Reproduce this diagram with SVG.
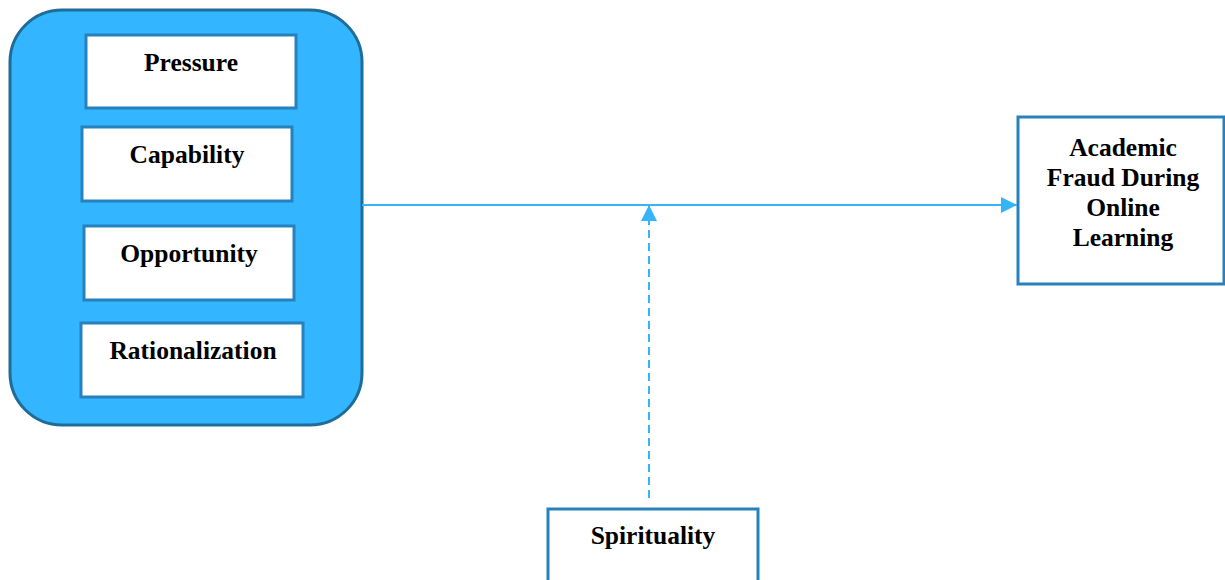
<svg xmlns="http://www.w3.org/2000/svg" width="1225" height="580" viewBox="0 0 1225 580">
<style>
.box{fill:#ffffff;stroke:#2681BD;stroke-width:3}
.t{font-family:"Liberation Serif","Times New Roman",serif;font-weight:bold;font-size:25.5px;fill:#000;text-anchor:middle}
.ln{stroke:#36B4F8;stroke-width:2;fill:none}
</style>
<defs>
<marker id="ah" viewBox="0 0 16 16" refX="16" refY="8" markerWidth="16" markerHeight="16" markerUnits="userSpaceOnUse" orient="auto">
<path d="M0,0 L16,8 L0,16 Z" fill="#36B4F8"/>
</marker>
</defs>
<g id="fraud-pentagon">
<rect x="10" y="10" width="352" height="415" rx="52" ry="52" fill="#33B5FF" stroke="#1F6C99" stroke-width="3"/>
</g>
<g id="pressure"><rect class="box" x="86" y="35" width="210" height="73"/><text class="t" x="191" y="71">Pressure</text></g>
<g id="capability"><rect class="box" x="82" y="127" width="210" height="74"/><text class="t" x="187" y="163">Capability</text></g>
<g id="opportunity"><rect class="box" x="84" y="226" width="210" height="74"/><text class="t" x="189" y="262">Opportunity</text></g>
<g id="rationalization"><rect class="box" x="81" y="323" width="222" height="74"/><text class="t" x="193" y="359">Rationalization</text></g>
<g id="academic-fraud"><rect class="box" x="1018" y="117" width="206" height="167"/>
<text class="t" x="1123" y="156">Academic</text>
<text class="t" x="1123" y="186">Fraud During</text>
<text class="t" x="1123" y="216">Online</text>
<text class="t" x="1123" y="246">Learning</text></g>
<g id="spirituality"><rect class="box" x="548" y="509" width="210" height="80"/><text class="t" x="653" y="544">Spirituality</text></g>
<g id="connectors">
<line class="ln" x1="362" y1="205" x2="1017" y2="205" marker-end="url(#ah)"/>
<line class="ln" x1="649" y1="498" x2="649" y2="205" stroke-dasharray="8,5" marker-end="url(#ah)"/>
</g>
</svg>
